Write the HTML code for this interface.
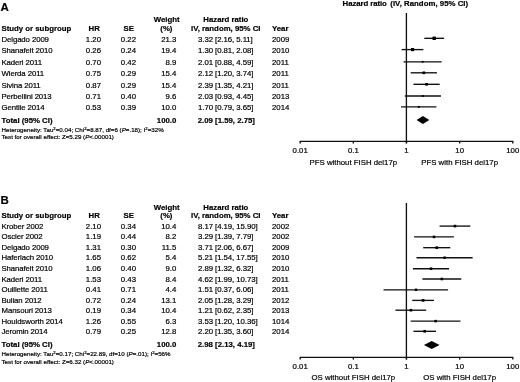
<!DOCTYPE html>
<html><head><meta charset="utf-8"><style>
html,body{margin:0;padding:0;background:#fff;}
body{width:520px;height:382px;position:relative;overflow:hidden;font-family:"Liberation Sans",sans-serif;color:#000;}
#w{position:absolute;left:0;top:0;width:520px;height:382px;filter:grayscale(1) blur(0.3px);}
.t{-webkit-text-stroke:0.2px #000;}
.t{position:absolute;white-space:nowrap;}
sup{font-size:70%;line-height:0;vertical-align:0.35em;}
svg{position:absolute;left:0;top:0;}
</style></head><body><div id="w">
<svg width="520" height="382" viewBox="0 0 520 382"><line x1="424.28" y1="38.30" x2="444.15" y2="38.30" stroke="#111" stroke-width="1.35"/><rect x="432.50" y="36.60" width="3.40" height="3.40" fill="#000"/><line x1="401.64" y1="49.60" x2="423.41" y2="49.60" stroke="#111" stroke-width="1.35"/><rect x="410.98" y="48.02" width="3.15" height="3.15" fill="#000"/><line x1="403.55" y1="61.80" x2="441.68" y2="61.80" stroke="#111" stroke-width="1.35"/><rect x="421.72" y="60.90" width="1.80" height="1.80" fill="#000"/><line x1="410.71" y1="72.80" x2="436.95" y2="72.80" stroke="#111" stroke-width="1.35"/><rect x="422.53" y="71.48" width="2.64" height="2.64" fill="#000"/><line x1="413.43" y1="84.30" x2="439.68" y2="84.30" stroke="#111" stroke-width="1.35"/><rect x="425.29" y="82.98" width="2.64" height="2.64" fill="#000"/><line x1="404.82" y1="96.00" x2="440.96" y2="96.00" stroke="#111" stroke-width="1.35"/><rect x="421.90" y="95.06" width="1.89" height="1.89" fill="#000"/><line x1="401.06" y1="106.90" x2="436.39" y2="106.90" stroke="#111" stroke-width="1.35"/><rect x="417.78" y="105.93" width="1.94" height="1.94" fill="#000"/><polygon points="416.60,119.90 422.92,115.90 429.25,119.90 422.92,123.90" fill="#000"/><line x1="406.40" y1="13.00" x2="406.40" y2="143.30" stroke="#111" stroke-width="1.35"/><line x1="299.70" y1="141.30" x2="513.30" y2="141.30" stroke="#111" stroke-width="1.35"/><line x1="300.20" y1="141.30" x2="300.20" y2="143.50" stroke="#111" stroke-width="1.35"/><line x1="353.35" y1="141.30" x2="353.35" y2="143.50" stroke="#111" stroke-width="1.35"/><line x1="406.50" y1="141.30" x2="406.50" y2="143.50" stroke="#111" stroke-width="1.35"/><line x1="459.65" y1="141.30" x2="459.65" y2="143.50" stroke="#111" stroke-width="1.35"/><line x1="512.80" y1="141.30" x2="512.80" y2="143.50" stroke="#111" stroke-width="1.35"/><line x1="439.57" y1="226.10" x2="470.35" y2="226.10" stroke="#111" stroke-width="1.35"/><rect x="453.68" y="224.79" width="2.61" height="2.61" fill="#000"/><line x1="414.10" y1="236.90" x2="453.89" y2="236.90" stroke="#111" stroke-width="1.35"/><rect x="432.72" y="235.63" width="2.55" height="2.55" fill="#000"/><line x1="423.18" y1="247.70" x2="450.30" y2="247.70" stroke="#111" stroke-width="1.35"/><rect x="435.44" y="246.38" width="2.64" height="2.64" fill="#000"/><line x1="416.47" y1="257.70" x2="472.63" y2="257.70" stroke="#111" stroke-width="1.35"/><rect x="443.37" y="256.47" width="2.46" height="2.46" fill="#000"/><line x1="412.91" y1="268.70" x2="449.06" y2="268.70" stroke="#111" stroke-width="1.35"/><rect x="429.71" y="267.41" width="2.57" height="2.57" fill="#000"/><line x1="422.38" y1="279.00" x2="461.28" y2="279.00" stroke="#111" stroke-width="1.35"/><rect x="440.55" y="277.72" width="2.55" height="2.55" fill="#000"/><line x1="383.55" y1="289.80" x2="448.09" y2="289.80" stroke="#111" stroke-width="1.35"/><rect x="414.80" y="288.58" width="2.43" height="2.43" fill="#000"/><line x1="412.20" y1="300.40" x2="433.99" y2="300.40" stroke="#111" stroke-width="1.35"/><rect x="421.72" y="299.05" width="2.69" height="2.69" fill="#000"/><line x1="395.47" y1="310.20" x2="426.22" y2="310.20" stroke="#111" stroke-width="1.35"/><rect x="409.59" y="308.89" width="2.61" height="2.61" fill="#000"/><line x1="410.71" y1="321.10" x2="460.47" y2="321.10" stroke="#111" stroke-width="1.35"/><rect x="434.37" y="319.86" width="2.49" height="2.49" fill="#000"/><line x1="413.43" y1="331.30" x2="436.07" y2="331.30" stroke="#111" stroke-width="1.35"/><rect x="423.36" y="329.96" width="2.68" height="2.68" fill="#000"/><polygon points="423.95,344.90 431.70,340.90 439.57,344.90 431.70,348.90" fill="#000"/><line x1="406.40" y1="203.00" x2="406.40" y2="359.40" stroke="#111" stroke-width="1.35"/><line x1="299.70" y1="357.40" x2="513.30" y2="357.40" stroke="#111" stroke-width="1.35"/><line x1="300.20" y1="357.40" x2="300.20" y2="359.60" stroke="#111" stroke-width="1.35"/><line x1="353.35" y1="357.40" x2="353.35" y2="359.60" stroke="#111" stroke-width="1.35"/><line x1="406.50" y1="357.40" x2="406.50" y2="359.60" stroke="#111" stroke-width="1.35"/><line x1="459.65" y1="357.40" x2="459.65" y2="359.60" stroke="#111" stroke-width="1.35"/><line x1="512.80" y1="357.40" x2="512.80" y2="359.60" stroke="#111" stroke-width="1.35"/></svg>
<div class="t" style="left:0.5px;top:2px;font-size:11.5px;line-height:11.5px;font-weight:bold;">A</div><div class="t" style="left:342.6px;top:0px;font-size:7.8px;line-height:7.8px;font-weight:bold;letter-spacing:-0.08px;">Hazard ratio</div><div class="t" style="left:390.3px;top:0px;font-size:7.8px;line-height:7.8px;font-weight:bold;letter-spacing:0.03px;">(IV, Random, 95% CI)</div><div class="t" style="left:153.7px;top:16px;font-size:7.8px;line-height:7.8px;font-weight:bold;">Weight</div><div class="t" style="left:203.3px;top:16px;font-size:7.8px;line-height:7.8px;font-weight:bold;">Hazard ratio</div><div class="t" style="left:1.5px;top:25px;font-size:7.8px;line-height:7.8px;font-weight:bold;">Study or subgroup</div><div class="t" style="left:88.5px;top:25px;font-size:7.8px;line-height:7.8px;font-weight:bold;">HR</div><div class="t" style="left:123.6px;top:25px;font-size:7.8px;line-height:7.8px;font-weight:bold;">SE</div><div class="t" style="left:160.3px;top:25px;font-size:7.8px;line-height:7.8px;font-weight:bold;">(%)</div><div class="t" style="left:191.0px;top:25px;font-size:7.8px;line-height:7.8px;font-weight:bold;">IV, random, 95% CI</div><div class="t" style="left:272px;top:25px;font-size:7.8px;line-height:7.8px;font-weight:bold;">Year</div><div class="t" style="left:1.5px;top:36px;font-size:7.8px;line-height:7.8px;letter-spacing:-0.1px;">Delgado 2009</div><div class="t" style="right:419.00px;top:36px;font-size:7.8px;line-height:7.8px;">1.20</div><div class="t" style="right:384.00px;top:36px;font-size:7.8px;line-height:7.8px;">0.22</div><div class="t" style="right:343.70px;top:36px;font-size:7.8px;line-height:7.8px;">21.3</div><div class="t" style="left:198.1px;top:36px;font-size:7.8px;line-height:7.8px;letter-spacing:-0.07px;">3.32 [2.16, 5.11]</div><div class="t" style="left:272px;top:36px;font-size:7.8px;line-height:7.8px;">2009</div><div class="t" style="left:1.5px;top:47px;font-size:7.8px;line-height:7.8px;letter-spacing:-0.1px;">Shanafelt 2010</div><div class="t" style="right:419.00px;top:47px;font-size:7.8px;line-height:7.8px;">0.26</div><div class="t" style="right:384.00px;top:47px;font-size:7.8px;line-height:7.8px;">0.24</div><div class="t" style="right:343.70px;top:47px;font-size:7.8px;line-height:7.8px;">19.4</div><div class="t" style="left:198.1px;top:47px;font-size:7.8px;line-height:7.8px;letter-spacing:-0.07px;">1.30 [0.81, 2.08]</div><div class="t" style="left:272px;top:47px;font-size:7.8px;line-height:7.8px;">2010</div><div class="t" style="left:1.5px;top:59px;font-size:7.8px;line-height:7.8px;letter-spacing:-0.1px;">Kaderi 2011</div><div class="t" style="right:419.00px;top:59px;font-size:7.8px;line-height:7.8px;">0.70</div><div class="t" style="right:384.00px;top:59px;font-size:7.8px;line-height:7.8px;">0.42</div><div class="t" style="right:343.70px;top:59px;font-size:7.8px;line-height:7.8px;">8.9</div><div class="t" style="left:198.1px;top:59px;font-size:7.8px;line-height:7.8px;letter-spacing:-0.07px;">2.01 [0.88, 4.59]</div><div class="t" style="left:272px;top:59px;font-size:7.8px;line-height:7.8px;">2011</div><div class="t" style="left:1.5px;top:70px;font-size:7.8px;line-height:7.8px;letter-spacing:-0.1px;">Wierda 2011</div><div class="t" style="right:419.00px;top:70px;font-size:7.8px;line-height:7.8px;">0.75</div><div class="t" style="right:384.00px;top:70px;font-size:7.8px;line-height:7.8px;">0.29</div><div class="t" style="right:343.70px;top:70px;font-size:7.8px;line-height:7.8px;">15.4</div><div class="t" style="left:198.1px;top:70px;font-size:7.8px;line-height:7.8px;letter-spacing:-0.07px;">2.12 [1.20, 3.74]</div><div class="t" style="left:272px;top:70px;font-size:7.8px;line-height:7.8px;">2011</div><div class="t" style="left:1.5px;top:82px;font-size:7.8px;line-height:7.8px;letter-spacing:-0.1px;">Sivina 2011</div><div class="t" style="right:419.00px;top:82px;font-size:7.8px;line-height:7.8px;">0.87</div><div class="t" style="right:384.00px;top:82px;font-size:7.8px;line-height:7.8px;">0.29</div><div class="t" style="right:343.70px;top:82px;font-size:7.8px;line-height:7.8px;">15.4</div><div class="t" style="left:198.1px;top:82px;font-size:7.8px;line-height:7.8px;letter-spacing:-0.07px;">2.39 [1.35, 4.21]</div><div class="t" style="left:272px;top:82px;font-size:7.8px;line-height:7.8px;">2011</div><div class="t" style="left:1.5px;top:93px;font-size:7.8px;line-height:7.8px;letter-spacing:-0.1px;">Perbellini 2013</div><div class="t" style="right:419.00px;top:93px;font-size:7.8px;line-height:7.8px;">0.71</div><div class="t" style="right:384.00px;top:93px;font-size:7.8px;line-height:7.8px;">0.40</div><div class="t" style="right:343.70px;top:93px;font-size:7.8px;line-height:7.8px;">9.6</div><div class="t" style="left:198.1px;top:93px;font-size:7.8px;line-height:7.8px;letter-spacing:-0.07px;">2.03 [0.93, 4.45]</div><div class="t" style="left:272px;top:93px;font-size:7.8px;line-height:7.8px;">2013</div><div class="t" style="left:1.5px;top:104px;font-size:7.8px;line-height:7.8px;letter-spacing:-0.1px;">Gentile 2014</div><div class="t" style="right:419.00px;top:104px;font-size:7.8px;line-height:7.8px;">0.53</div><div class="t" style="right:384.00px;top:104px;font-size:7.8px;line-height:7.8px;">0.39</div><div class="t" style="right:343.70px;top:104px;font-size:7.8px;line-height:7.8px;">10.0</div><div class="t" style="left:198.1px;top:104px;font-size:7.8px;line-height:7.8px;letter-spacing:-0.07px;">1.70 [0.79, 3.65]</div><div class="t" style="left:272px;top:104px;font-size:7.8px;line-height:7.8px;">2014</div><div class="t" style="left:1.5px;top:117px;font-size:7.8px;line-height:7.8px;font-weight:bold;">Total (95% CI)</div><div class="t" style="right:343.70px;top:117px;font-size:7.8px;line-height:7.8px;font-weight:bold;">100.0</div><div class="t" style="left:197.7px;top:117px;font-size:7.8px;line-height:7.8px;font-weight:bold;">2.09 [1.59, 2.75]</div><div class="t" style="left:1.5px;top:127px;font-size:6.2px;line-height:6.2px;">Heterogeneity: Tau<sup>2</sup>=0.04; Chi<sup>2</sup>=8.87, df=6 (<i>P</i>=.18); I<sup>2</sup>=32%</div><div class="t" style="left:1.5px;top:134px;font-size:6.2px;line-height:6.2px;">Test for overall effect: Z=5.29 (<i>P</i>&lt;.00001)</div><div class="t" style="left:200.20px;width:200px;text-align:center;top:147px;font-size:7.8px;line-height:7.8px;">0.01</div><div class="t" style="left:253.35px;width:200px;text-align:center;top:147px;font-size:7.8px;line-height:7.8px;">0.1</div><div class="t" style="left:306.50px;width:200px;text-align:center;top:147px;font-size:7.8px;line-height:7.8px;">1</div><div class="t" style="left:359.65px;width:200px;text-align:center;top:147px;font-size:7.8px;line-height:7.8px;">10</div><div class="t" style="left:412.80px;width:200px;text-align:center;top:147px;font-size:7.8px;line-height:7.8px;">100</div><div class="t" style="left:253.35px;width:200px;text-align:center;top:159px;font-size:7.8px;line-height:7.8px;">PFS without FISH del17p</div><div class="t" style="left:359.65px;width:200px;text-align:center;top:159px;font-size:7.8px;line-height:7.8px;">PFS with FISH del17p</div><div class="t" style="left:0.5px;top:195px;font-size:11.5px;line-height:11.5px;font-weight:bold;">B</div><div class="t" style="left:153.7px;top:204px;font-size:7.8px;line-height:7.8px;font-weight:bold;">Weight</div><div class="t" style="left:203.3px;top:204px;font-size:7.8px;line-height:7.8px;font-weight:bold;">Hazard ratio</div><div class="t" style="left:1.5px;top:212px;font-size:7.8px;line-height:7.8px;font-weight:bold;">Study or subgroup</div><div class="t" style="left:88.5px;top:212px;font-size:7.8px;line-height:7.8px;font-weight:bold;">HR</div><div class="t" style="left:123.6px;top:212px;font-size:7.8px;line-height:7.8px;font-weight:bold;">SE</div><div class="t" style="left:160.3px;top:212px;font-size:7.8px;line-height:7.8px;font-weight:bold;">(%)</div><div class="t" style="left:191.0px;top:212px;font-size:7.8px;line-height:7.8px;font-weight:bold;">IV, random, 95% CI</div><div class="t" style="left:272px;top:212px;font-size:7.8px;line-height:7.8px;font-weight:bold;">Year</div><div class="t" style="left:1.5px;top:223px;font-size:7.8px;line-height:7.8px;letter-spacing:-0.1px;">Krober 2002</div><div class="t" style="right:419.00px;top:223px;font-size:7.8px;line-height:7.8px;">2.10</div><div class="t" style="right:384.00px;top:223px;font-size:7.8px;line-height:7.8px;">0.34</div><div class="t" style="right:343.70px;top:223px;font-size:7.8px;line-height:7.8px;">10.4</div><div class="t" style="left:198.1px;top:223px;font-size:7.8px;line-height:7.8px;letter-spacing:-0.07px;">8.17 [4.19, 15.90]</div><div class="t" style="left:272px;top:223px;font-size:7.8px;line-height:7.8px;">2002</div><div class="t" style="left:1.5px;top:233px;font-size:7.8px;line-height:7.8px;letter-spacing:-0.1px;">Oscier 2002</div><div class="t" style="right:419.00px;top:233px;font-size:7.8px;line-height:7.8px;">1.19</div><div class="t" style="right:384.00px;top:233px;font-size:7.8px;line-height:7.8px;">0.44</div><div class="t" style="right:343.70px;top:233px;font-size:7.8px;line-height:7.8px;">8.2</div><div class="t" style="left:198.1px;top:233px;font-size:7.8px;line-height:7.8px;letter-spacing:-0.07px;">3.29 [1.39, 7.79]</div><div class="t" style="left:272px;top:233px;font-size:7.8px;line-height:7.8px;">2002</div><div class="t" style="left:1.5px;top:244px;font-size:7.8px;line-height:7.8px;letter-spacing:-0.1px;">Delgado 2009</div><div class="t" style="right:419.00px;top:244px;font-size:7.8px;line-height:7.8px;">1.31</div><div class="t" style="right:384.00px;top:244px;font-size:7.8px;line-height:7.8px;">0.30</div><div class="t" style="right:343.70px;top:244px;font-size:7.8px;line-height:7.8px;">11.5</div><div class="t" style="left:198.1px;top:244px;font-size:7.8px;line-height:7.8px;letter-spacing:-0.07px;">3.71 [2.06, 6.67]</div><div class="t" style="left:272px;top:244px;font-size:7.8px;line-height:7.8px;">2009</div><div class="t" style="left:1.5px;top:254px;font-size:7.8px;line-height:7.8px;letter-spacing:-0.1px;">Haferlach 2010</div><div class="t" style="right:419.00px;top:254px;font-size:7.8px;line-height:7.8px;">1.65</div><div class="t" style="right:384.00px;top:254px;font-size:7.8px;line-height:7.8px;">0.62</div><div class="t" style="right:343.70px;top:254px;font-size:7.8px;line-height:7.8px;">5.4</div><div class="t" style="left:198.1px;top:254px;font-size:7.8px;line-height:7.8px;letter-spacing:-0.07px;">5.21 [1.54, 17.55]</div><div class="t" style="left:272px;top:254px;font-size:7.8px;line-height:7.8px;">2010</div><div class="t" style="left:1.5px;top:265px;font-size:7.8px;line-height:7.8px;letter-spacing:-0.1px;">Shanafelt 2010</div><div class="t" style="right:419.00px;top:265px;font-size:7.8px;line-height:7.8px;">1.06</div><div class="t" style="right:384.00px;top:265px;font-size:7.8px;line-height:7.8px;">0.40</div><div class="t" style="right:343.70px;top:265px;font-size:7.8px;line-height:7.8px;">9.0</div><div class="t" style="left:198.1px;top:265px;font-size:7.8px;line-height:7.8px;letter-spacing:-0.07px;">2.89 [1.32, 6.32]</div><div class="t" style="left:272px;top:265px;font-size:7.8px;line-height:7.8px;">2010</div><div class="t" style="left:1.5px;top:276px;font-size:7.8px;line-height:7.8px;letter-spacing:-0.1px;">Kaderi 2011</div><div class="t" style="right:419.00px;top:276px;font-size:7.8px;line-height:7.8px;">1.53</div><div class="t" style="right:384.00px;top:276px;font-size:7.8px;line-height:7.8px;">0.43</div><div class="t" style="right:343.70px;top:276px;font-size:7.8px;line-height:7.8px;">8.4</div><div class="t" style="left:198.1px;top:276px;font-size:7.8px;line-height:7.8px;letter-spacing:-0.07px;">4.62 [1.99, 10.73]</div><div class="t" style="left:272px;top:276px;font-size:7.8px;line-height:7.8px;">2011</div><div class="t" style="left:1.5px;top:286px;font-size:7.8px;line-height:7.8px;letter-spacing:-0.1px;">Ouillette 2011</div><div class="t" style="right:419.00px;top:286px;font-size:7.8px;line-height:7.8px;">0.41</div><div class="t" style="right:384.00px;top:286px;font-size:7.8px;line-height:7.8px;">0.71</div><div class="t" style="right:343.70px;top:286px;font-size:7.8px;line-height:7.8px;">4.4</div><div class="t" style="left:198.1px;top:286px;font-size:7.8px;line-height:7.8px;letter-spacing:-0.07px;">1.51 [0.37, 6.06]</div><div class="t" style="left:272px;top:286px;font-size:7.8px;line-height:7.8px;">2011</div><div class="t" style="left:1.5px;top:297px;font-size:7.8px;line-height:7.8px;letter-spacing:-0.1px;">Bulian 2012</div><div class="t" style="right:419.00px;top:297px;font-size:7.8px;line-height:7.8px;">0.72</div><div class="t" style="right:384.00px;top:297px;font-size:7.8px;line-height:7.8px;">0.24</div><div class="t" style="right:343.70px;top:297px;font-size:7.8px;line-height:7.8px;">13.1</div><div class="t" style="left:198.1px;top:297px;font-size:7.8px;line-height:7.8px;letter-spacing:-0.07px;">2.05 [1.28, 3.29]</div><div class="t" style="left:272px;top:297px;font-size:7.8px;line-height:7.8px;">2012</div><div class="t" style="left:1.5px;top:307px;font-size:7.8px;line-height:7.8px;letter-spacing:-0.1px;">Mansouri 2013</div><div class="t" style="right:419.00px;top:307px;font-size:7.8px;line-height:7.8px;">0.19</div><div class="t" style="right:384.00px;top:307px;font-size:7.8px;line-height:7.8px;">0.34</div><div class="t" style="right:343.70px;top:307px;font-size:7.8px;line-height:7.8px;">10.4</div><div class="t" style="left:198.1px;top:307px;font-size:7.8px;line-height:7.8px;letter-spacing:-0.07px;">1.21 [0.62, 2.35]</div><div class="t" style="left:272px;top:307px;font-size:7.8px;line-height:7.8px;">2013</div><div class="t" style="left:1.5px;top:318px;font-size:7.8px;line-height:7.8px;letter-spacing:-0.1px;">Houldsworth 2014</div><div class="t" style="right:419.00px;top:318px;font-size:7.8px;line-height:7.8px;">1.26</div><div class="t" style="right:384.00px;top:318px;font-size:7.8px;line-height:7.8px;">0.55</div><div class="t" style="right:343.70px;top:318px;font-size:7.8px;line-height:7.8px;">6.3</div><div class="t" style="left:198.1px;top:318px;font-size:7.8px;line-height:7.8px;letter-spacing:-0.07px;">3.53 [1.20, 10.36]</div><div class="t" style="left:272px;top:318px;font-size:7.8px;line-height:7.8px;">1014</div><div class="t" style="left:1.5px;top:328px;font-size:7.8px;line-height:7.8px;letter-spacing:-0.1px;">Jeromin 2014</div><div class="t" style="right:419.00px;top:328px;font-size:7.8px;line-height:7.8px;">0.79</div><div class="t" style="right:384.00px;top:328px;font-size:7.8px;line-height:7.8px;">0.25</div><div class="t" style="right:343.70px;top:328px;font-size:7.8px;line-height:7.8px;">12.8</div><div class="t" style="left:198.1px;top:328px;font-size:7.8px;line-height:7.8px;letter-spacing:-0.07px;">2.20 [1.35, 3.60]</div><div class="t" style="left:272px;top:328px;font-size:7.8px;line-height:7.8px;">2014</div><div class="t" style="left:1.5px;top:341px;font-size:7.8px;line-height:7.8px;font-weight:bold;">Total (95% CI)</div><div class="t" style="right:343.70px;top:341px;font-size:7.8px;line-height:7.8px;font-weight:bold;">100.0</div><div class="t" style="left:197.7px;top:341px;font-size:7.8px;line-height:7.8px;font-weight:bold;">2.98 [2.13, 4.19]</div><div class="t" style="left:1.5px;top:351px;font-size:6.2px;line-height:6.2px;">Heterogeneity: Tau<sup>2</sup>=0.17; Chi<sup>2</sup>=22.89, df=10 (<i>P</i>=.01); I<sup>2</sup>=56%</div><div class="t" style="left:1.5px;top:359px;font-size:6.2px;line-height:6.2px;">Test for overall effect: Z=6.32 (<i>P</i>&lt;.00001)</div><div class="t" style="left:200.20px;width:200px;text-align:center;top:363px;font-size:7.8px;line-height:7.8px;">0.01</div><div class="t" style="left:253.35px;width:200px;text-align:center;top:363px;font-size:7.8px;line-height:7.8px;">0.1</div><div class="t" style="left:306.50px;width:200px;text-align:center;top:363px;font-size:7.8px;line-height:7.8px;">1</div><div class="t" style="left:359.65px;width:200px;text-align:center;top:363px;font-size:7.8px;line-height:7.8px;">10</div><div class="t" style="left:412.80px;width:200px;text-align:center;top:363px;font-size:7.8px;line-height:7.8px;">100</div><div class="t" style="left:253.35px;width:200px;text-align:center;top:374px;font-size:7.8px;line-height:7.8px;">OS without FISH del17p</div><div class="t" style="left:359.65px;width:200px;text-align:center;top:374px;font-size:7.8px;line-height:7.8px;">OS with FISH del17p</div>
</div></body></html>
